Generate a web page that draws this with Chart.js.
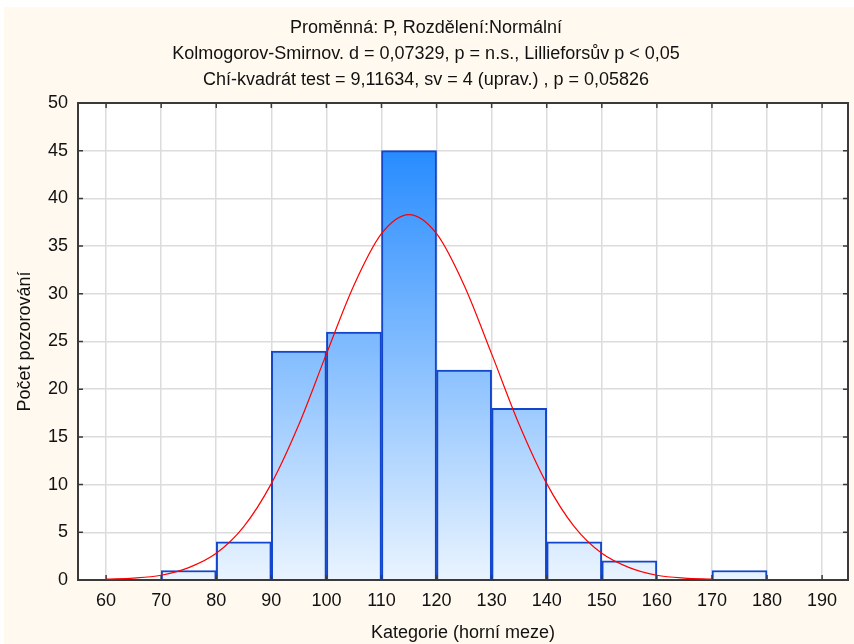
<!DOCTYPE html>
<html>
<head>
<meta charset="utf-8">
<script src="https://cdn.jsdelivr.net/npm/chart.js@4.4.1/dist/chart.umd.min.js"></script>
<style>
  html, body { margin: 0; padding: 0; background: #fff; }
  #wrap { position: absolute; left: 4px; top: 7px; width: 850px; height: 637px; background: #fff9ef; }
</style>
</head>
<body>
<div id="wrap"><canvas id="histChart" width="850" height="637"></canvas></div>
<script>
// histogram bins (lower edge), counts per bin
const binLower = [60, 70, 80, 90, 100, 110, 120, 130, 140, 150, 160, 170, 180];
const counts = [null, 1, 4, 24, 26, 45, 22, 18, 4, 2, null, 1, null];
const binWidth = 10;

// fitted normal curve
const curveX = [60, 65, 70, 75, 80, 85, 90, 95, 100, 105, 110, 115, 120, 125, 130, 135, 140, 145, 150, 155, 160, 165, 170];
const curveY = [0.1, 0.2, 0.5, 1.3, 2.8, 5.6, 10.1, 16.3, 23.7, 30.9, 36.3, 38.3, 36.3, 30.9, 23.7, 16.3, 10.1, 5.6, 2.8, 1.3, 0.5, 0.2, 0.1];

const xTicks = [60, 70, 80, 90, 100, 110, 120, 130, 140, 150, 160, 170, 180, 190];

const titleLines = [
    'Proměnná: P, Rozdělení:Normální',
    'Kolmogorov-Smirnov. d = 0,07329, p = n.s., Lillieforsův p < 0,05',
    'Chí-kvadrát test = 9,11634, sv = 4 (uprav.) , p = 0,05826'
];

Chart.defaults.font.family = "'Liberation Sans', Arial, sans-serif";
Chart.defaults.font.size = 18;
Chart.defaults.color = '#111';

// white plot area + black frame with inward ticks
const framePlugin = {
    id: 'frame',
    beforeDraw(chart) {
        const { ctx, chartArea: a } = chart;
        ctx.save();
        ctx.fillStyle = '#fff';
        ctx.fillRect(a.left, a.top, a.width, a.height);
        ctx.restore();
    },
    afterDatasetDraw(chart, args) {
        if (args.index !== 0) return;
        const { ctx, chartArea: a, scales } = chart;
        ctx.save();
        ctx.strokeStyle = '#3a3a3a';
        ctx.lineWidth = 2;
        ctx.strokeRect(a.left, a.top, a.width, a.height);
        ctx.lineWidth = 1.5;
        ctx.beginPath();
        scales.x.ticks.forEach(t => {
            const px = scales.x.getPixelForValue(t.value);
            ctx.moveTo(px, a.top); ctx.lineTo(px, a.top + 5);
            ctx.moveTo(px, a.bottom); ctx.lineTo(px, a.bottom - 5);
        });
        scales.y.ticks.forEach(t => {
            const py = scales.y.getPixelForValue(t.value);
            ctx.moveTo(a.left, py); ctx.lineTo(a.left + 5, py);
            ctx.moveTo(a.right, py); ctx.lineTo(a.right - 5, py);
        });
        ctx.stroke();
        ctx.restore();
    }
};

const barData = binLower.map((b, i) => ({ x: b + binWidth / 2, y: counts[i] }));
const curveData = curveX.map((x, i) => ({ x, y: curveY[i] }));

new Chart(document.getElementById('histChart'), {
    type: 'bar',
    data: {
        datasets: [
            {
                type: 'bar',
                data: barData,
                order: 2,
                barPercentage: 1,
                categoryPercentage: 1,
                grouped: false,
                borderColor: '#1246cc',
                borderWidth: 2,
                borderSkipped: 'bottom',
                backgroundColor(c) {
                    const a = c.chart.chartArea;
                    if (!a) return '#7fb8ff';
                    const g = c.chart.ctx.createLinearGradient(0, a.top, 0, a.bottom);
                    g.addColorStop(0, '#1280ff');
                    g.addColorStop(1, '#eaf4ff');
                    return g;
                }
            },
            {
                type: 'line',
                data: curveData,
                order: 1,
                borderColor: '#ff0000',
                borderWidth: 1.2,
                pointRadius: 0,
                cubicInterpolationMode: 'monotone',
                fill: false
            }
        ]
    },
    options: {
        responsive: false,
        animation: false,
        layout: { padding: { left: 0, right: 6, top: 0, bottom: 0 } },
        plugins: {
            legend: { display: false },
            tooltip: { enabled: false },
            title: {
                display: true,
                text: titleLines,
                font: { size: 18, weight: 'normal', lineHeight: 26 / 18 },
                color: '#111',
                padding: { top: 8, bottom: 10 }
            }
        },
        scales: {
            x: {
                type: 'linear',
                min: 54.9,
                max: 194.7,
                offset: false,
                afterBuildTicks(scale) { scale.ticks = xTicks.map(v => ({ value: v })); },
                afterFit(scale) { scale.height = 64; },
                ticks: { padding: 10, maxRotation: 0, autoSkip: false },
                grid: { color: '#dcdcdc', lineWidth: 1.5, drawTicks: false, offset: false },
                border: { display: false },
                title: { display: true, text: 'Kategorie (horní meze)', padding: { top: 0, bottom: 0 } }
            },
            y: {
                min: 0,
                max: 50,
                afterFit(scale) { scale.width = 74; },
                ticks: { stepSize: 5, padding: 10 },
                grid: { color: '#dcdcdc', lineWidth: 1.5, drawTicks: false },
                border: { display: false },
                title: { display: true, text: 'Počet pozorování', padding: { top: 10, bottom: 0 } }
            }
        }
    },
    plugins: [framePlugin]
});
</script>
</body>
</html>
